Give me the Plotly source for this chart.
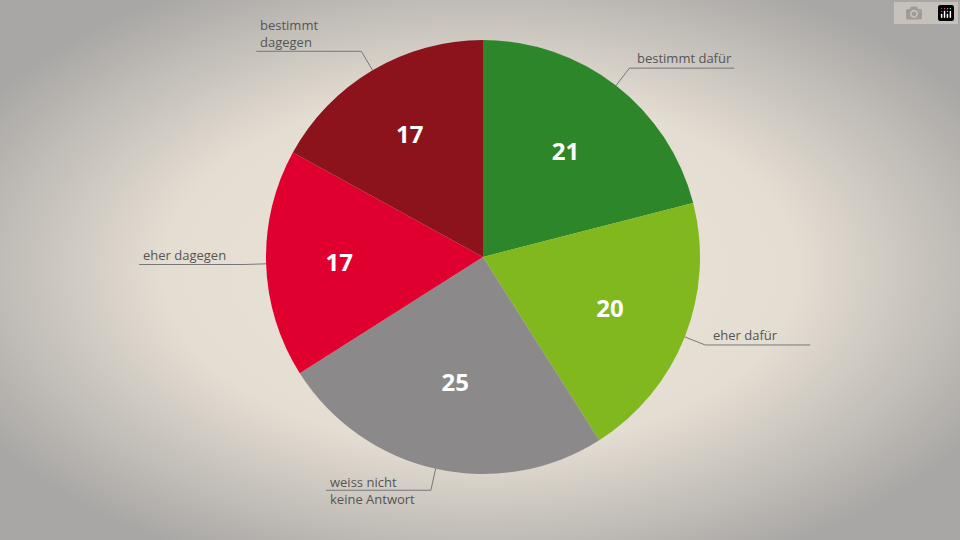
import plotly.graph_objects as go
import math

labels = ["bestimmt dafür", "eher dafür", "weiss nicht<br>keine Antwort", "eher dagegen", "bestimmt<br>dagegen"]
values = [21, 20, 25, 17, 17]
colors = ["#2e862b", "#80b81d", "#8b8989", "#df0030", "#8c131b"]

W, H = 960, 540
cx, cy, R = 483, 257, 217

svg = ("data:image/svg+xml;utf8,<svg xmlns='http://www.w3.org/2000/svg' width='960' height='540'>"
       "<defs><radialGradient id='g' cx='50%' cy='50%' r='60%'>"
       "<stop offset='0' stop-color='%23ece4d8'/><stop offset='0.55' stop-color='%23e4ddd2'/>"
       "<stop offset='1' stop-color='%23a9a7a5'/></radialGradient></defs>"
       "<rect width='960' height='540' fill='url(%23g)'/></svg>")

fig = go.Figure(go.Pie(
    values=values, labels=labels, sort=False, direction="clockwise", rotation=0,
    marker=dict(colors=colors, line=dict(width=0)),
    textinfo="value", textposition="inside", insidetextorientation="horizontal",
    textfont=dict(family="Open Sans", size=24, color="white", weight="bold"),
    domain=dict(x=[(cx - R) / W, (cx + R) / W], y=[1 - (cy + R) / H, 1 - (cy - R) / H]),
    hoverinfo="skip", showlegend=False))

def px(x, y):
    return x / W, 1 - y / H

shapes, annotations = [], []
total = sum(values)
acc = 0
for lab, v in zip(labels, values):
    mid = (acc + v / 2) / total * 2 * math.pi
    acc += v
    s, c = math.sin(mid), math.cos(mid)
    x0, y0 = cx + R * s, cy - R * c
    x1, y1 = cx + (R + 22) * s, cy - (R + 22) * c
    side = 1 if s > 0 else -1
    x2 = x1 + side * 105
    for a, b in [((x0, y0), (x1, y1)), ((x1, y1), (x2, y1))]:
        p, q = px(*a), px(*b)
        shapes.append(dict(type="line", xref="paper", yref="paper", x0=p[0], y0=p[1], x1=q[0], y1=q[1],
                           line=dict(color="#777", width=1)))
    two = "<br>" in lab
    mid_y = y1 if (two and lab.startswith("weiss")) else y1 - (18 if two else 10)
    tx = x2 if side < 0 else x1 + 6
    ax, ay = px(tx + (2 if side < 0 else 0), mid_y)
    annotations.append(dict(x=ax, y=ay, xref="paper", yref="paper", text=lab, showarrow=False,
                            xanchor="left", yanchor="middle", align="left",
                            font=dict(family="Open Sans", size=13, color="#555")))

fig.update_layout(width=W, height=H, margin=dict(l=0, r=0, t=0, b=0),
                  paper_bgcolor="#e4ddd2", shapes=shapes, annotations=annotations,
                  images=[dict(source=svg, xref="paper", yref="paper", x=0, y=1, sizex=1, sizey=1,
                               sizing="stretch", layer="below")])
fig.write_html("out.html")

with open("out.html", encoding="utf-8") as f:
    html = f.read()
html = html.replace("<head>", "<head><style>html,body{margin:0;padding:0;overflow:hidden;}</style>", 1)
with open("out.html", "w", encoding="utf-8") as f:
    f.write(html)
